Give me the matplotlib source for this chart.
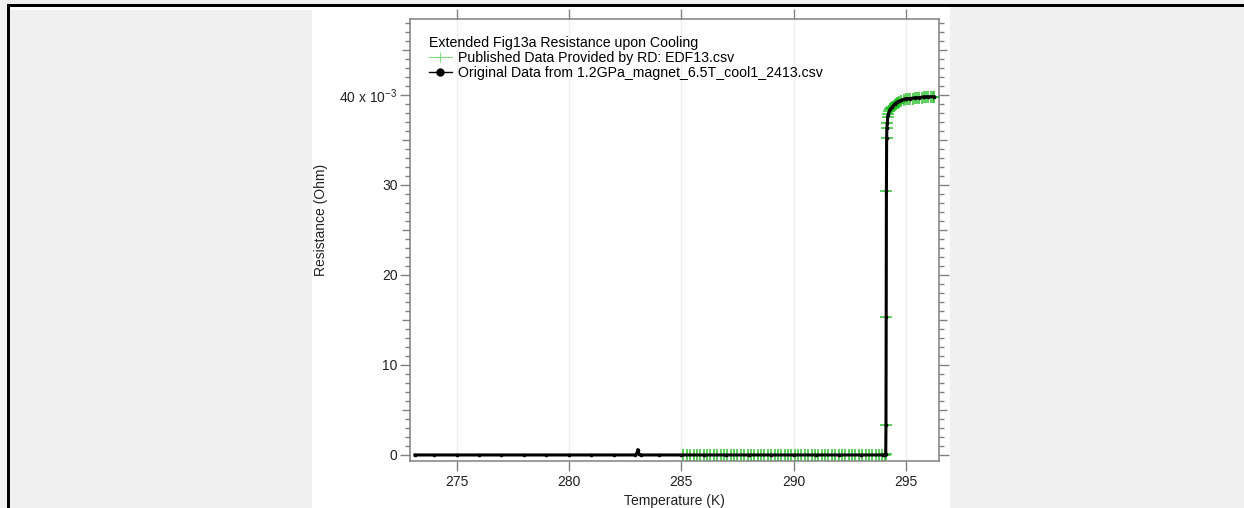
import matplotlib.pyplot as plt
from matplotlib.lines import Line2D
from matplotlib.patches import Rectangle
from matplotlib.ticker import MultipleLocator, FixedLocator

plt.rcParams['font.family'] = ['Liberation Sans', 'DejaVu Sans']
plt.rcParams['mathtext.default'] = 'regular'

# Original data (black): temperature in K, resistance in Ohm
black_temp = [273.15, 274.0, 275.0, 276.0, 277.0, 278.0, 279.0, 280.0, 281.0, 282.0,
              282.95, 283.03, 283.07, 283.11, 283.2, 284.0, 285.0, 286.0, 287.0, 288.0,
              289.0, 290.0, 291.0, 292.0, 293.0, 294.0, 294.08, 294.1, 294.11, 294.12,
              294.13, 294.14, 294.15, 294.17, 294.2, 294.3, 294.4, 294.5, 294.6, 294.7,
              294.8, 294.9, 295.0, 295.2, 295.4, 295.6, 295.8, 296.0, 296.25]
black_res = [0.0, 0.0, 0.0, 0.0, 0.0, 0.0, 0.0, 0.0, 0.0, 0.0,
             0.0, 0.0002, 0.0006, 0.0001, 0.0, 0.0, 0.0, 0.0, 0.0, 0.0,
             0.0, 0.0, 0.0, 0.0, 0.0, 0.0, 0.0, 0.0001, 0.0033, 0.0153,
             0.0293, 0.0352, 0.0363, 0.0369, 0.0378, 0.0384, 0.0387, 0.0390, 0.0392, 0.0393,
             0.0394, 0.0395, 0.0396, 0.0396, 0.0397, 0.0397, 0.0398, 0.0398, 0.0398]

# Published data (green)
green_temp = [285.10, 285.25, 285.40, 285.55, 285.70, 285.85, 286.00, 286.15, 286.30, 286.45,
              286.60, 286.75, 286.90, 287.05, 287.20, 287.35, 287.50, 287.65, 287.80, 287.95,
              288.10, 288.25, 288.40, 288.55, 288.70, 288.85, 289.00, 289.15, 289.30, 289.45,
              289.60, 289.75, 289.90, 290.05, 290.20, 290.35, 290.50, 290.65, 290.80, 290.95,
              291.10, 291.25, 291.40, 291.55, 291.70, 291.85, 292.00, 292.15, 292.30, 292.45,
              292.60, 292.75, 292.90, 293.05, 293.20, 293.35, 293.50, 293.65, 293.80, 293.95,
              294.05, 294.10, 294.11, 294.12, 294.13, 294.14, 294.15, 294.16, 294.18, 294.20,
              294.25, 294.30, 294.35, 294.40, 294.45, 294.50, 294.55, 294.60, 294.65, 294.70,
              294.80, 294.90, 295.00, 295.10, 295.20, 295.30, 295.40, 295.50, 295.60, 295.70,
              295.80, 295.90, 296.00, 296.10, 296.20, 296.25]
green_res = [0.0, 0.0, 0.0, 0.0, 0.0, 0.0, 0.0, 0.0, 0.0, 0.0,
             0.0, 0.0, 0.0, 0.0, 0.0, 0.0, 0.0, 0.0, 0.0, 0.0,
             0.0, 0.0, 0.0, 0.0, 0.0, 0.0, 0.0, 0.0, 0.0, 0.0,
             0.0, 0.0, 0.0, 0.0, 0.0, 0.0, 0.0, 0.0, 0.0, 0.0,
             0.0, 0.0, 0.0, 0.0, 0.0, 0.0, 0.0, 0.0, 0.0, 0.0,
             0.0, 0.0, 0.0, 0.0, 0.0, 0.0, 0.0, 0.0, 0.0, 0.0,
             0.0, 0.0001, 0.0033, 0.0153, 0.0293, 0.0352, 0.0363, 0.0369, 0.0375, 0.0379,
             0.0382, 0.0384, 0.0386, 0.0387, 0.0388, 0.0389, 0.0390, 0.0391, 0.0391, 0.0392,
             0.0393, 0.0394, 0.0395, 0.0395, 0.0396, 0.0396, 0.0397, 0.0397, 0.0397, 0.0397,
             0.0398, 0.0398, 0.0398, 0.0398, 0.0398, 0.0398]

x_ticks = [275, 280, 285, 290, 295]
y_ticks = [0.0, 0.01, 0.02, 0.03, 0.04]
y_tick_labels = ['0', '10', '20', '30', r'40 x 10$^{-3}$']

legend_title = 'Extended Fig13a Resistance upon Cooling'
green_label = 'Published Data Provided by RD: EDF13.csv'
black_label = 'Original Data from 1.2GPa_magnet_6.5T_cool1_2413.csv'

W, H = 1244, 508
fig = plt.figure(figsize=(W / 100, H / 100), dpi=100, facecolor='#f0f0f0')

# screenshot frame: white panel and black borders
def px_rect(x0, y0, x1, y1, color):
    fig.add_artist(Rectangle((x0 / W, 1 - y1 / H), (x1 - x0) / W, (y1 - y0) / H,
                             transform=fig.transFigure, facecolor=color,
                             edgecolor='none', zorder=-10))

px_rect(10, 7, 950, 10, 'white')
px_rect(312, 7, 950, 508, 'white')
px_rect(8, 4, 1244, 7, 'black')
px_rect(7, 4, 10, 508, 'black')

ax = fig.add_axes([410 / W, 1 - 461 / H, (939 - 410) / W, (461 - 19) / H])
ax.set_facecolor('white')

ax.plot(green_temp, green_res, color='#1fbf1f', lw=0.8, marker='+', ms=8,
        mew=1.2, alpha=0.85, zorder=2)
ax.plot(black_temp, black_res, color='black', lw=2.2, marker='o', ms=1.6,
        zorder=3)

ax.set_xlim(272.93, 296.47)
ax.set_ylim(-0.00067, 0.04844)
ax.xaxis.set_major_locator(FixedLocator(x_ticks))
ax.yaxis.set_major_locator(FixedLocator(y_ticks))
ax.set_yticklabels(y_tick_labels)
ax.yaxis.set_minor_locator(MultipleLocator(0.001))

ax.grid(axis='x', color='#ececec', lw=1.0)
ax.set_axisbelow(True)

gray = '#808080'
for s in ax.spines.values():
    s.set_color(gray)
    s.set_linewidth(1.1)
ax.tick_params(which='both', direction='out', color=gray, width=1.0,
               left=True, right=True, top=True, bottom=True,
               labelsize=10, labelcolor='#222222')
ax.tick_params(which='major', length=7, pad=2)
ax.tick_params(axis='x', which='major', pad=3)
ax.tick_params(which='minor', length=3.5)

ax.set_xlabel('Temperature (K)', fontsize=10, color='#222222', labelpad=3.5)
ax.set_ylabel('Resistance (Ohm)', fontsize=10, color='#222222')
ax.yaxis.set_label_coords(-0.155, 0.545)

handles = [Line2D([], [], color='#7fdd7f', lw=0.8, marker='+', ms=7, mew=0.8),
           Line2D([], [], color='black', lw=1.0, marker='o', ms=5)]
leg = ax.legend(handles, [green_label, black_label], title=legend_title,
                loc='upper left', bbox_to_anchor=(0.036, 0.962), frameon=False,
                fontsize=10.2, title_fontsize=10.2, alignment='left',
                handlelength=1.6, handletextpad=0.45, labelspacing=0.08,
                borderpad=0, borderaxespad=0)

# medium ticks at every 5e-3
fig.canvas.draw()
for t in ax.yaxis.get_minor_ticks():
    v = t.get_loc() / 0.005
    if abs(v - round(v)) < 1e-6:
        t.tick1line.set_markersize(5.5)
        t.tick2line.set_markersize(5.5)

fig.savefig('out.png', dpi=100, facecolor=fig.get_facecolor())
